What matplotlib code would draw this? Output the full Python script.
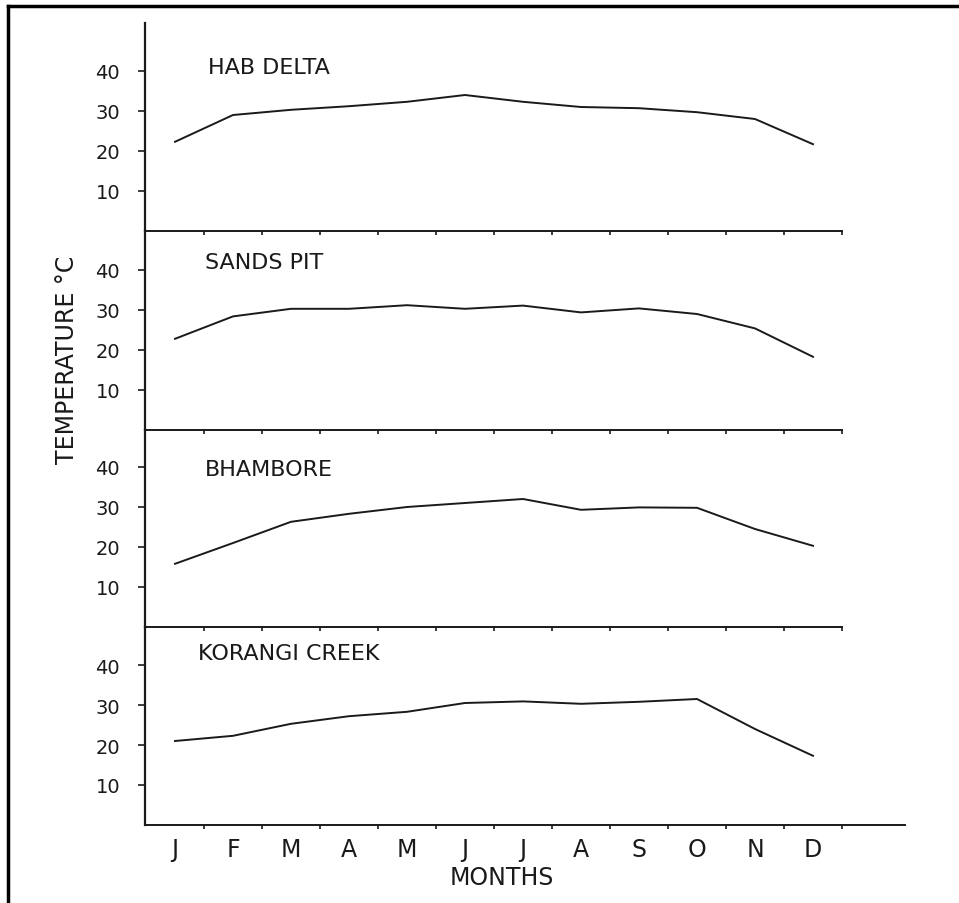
import matplotlib
matplotlib.use("Agg")
import matplotlib.pyplot as plt
from matplotlib.lines import Line2D
import numpy as np

# monthly mean temperatures (deg C)
months = ["J", "F", "M", "A", "M", "J", "J", "A", "S", "O", "N", "D"]
stations = ["HAB DELTA", "SANDS PIT", "BHAMBORE", "KORANGI CREEK"]
hab_delta = [22.3, 29.0, 30.3, 31.2, 32.3, 34.0, 32.3, 31.0, 30.7, 29.7, 28.0, 21.7]
sands_pit = [22.8, 28.4, 30.3, 30.3, 31.2, 30.3, 31.1, 29.4, 30.4, 29.0, 25.4, 18.3]
bhambore = [15.8, 21.0, 26.3, 28.3, 30.0, 31.0, 32.0, 29.3, 29.9, 29.8, 24.5, 20.3]
korangi_creek = [21.0, 22.3, 25.3, 27.2, 28.3, 30.5, 30.9, 30.3, 30.8, 31.5, 24.0, 17.3]
series = [hab_delta, sands_pit, bhambore, korangi_creek]
yticks = [10, 20, 30, 40]

W, H = 959, 904
fig = plt.figure(figsize=(W / 100, H / 100), dpi=100)
fig.patch.set_facecolor("white")

ink = "#1a1a1a"
font = "DejaVu Sans"

# pixel layout of the stacked panels: (top, bottom)
panels_px = [(24, 232), (232, 431), (431, 628), (628, 826)]
left_px, right_px = 145, 905
x0_px, step_px = 175, 58.0
xlim = ((left_px - x0_px) / step_px, (right_px - x0_px) / step_px)
px_per_unit = 4.0
title_pos = [(0.57, 41), (0.52, 42), (0.52, 39.5), (0.40, 43)]

x = np.arange(len(months))
for k, (top, bot) in enumerate(panels_px):
    ax = fig.add_axes([left_px / W, 1 - bot / H, (right_px - left_px) / W, (bot - top) / H])
    ax.patch.set_alpha(0)
    ax.set_xlim(*xlim)
    ax.set_ylim(0, (bot - top) / px_per_unit)
    ax.plot(x, series[k], color=ink, lw=1.4, solid_joinstyle="round")

    for side in ["top", "right"]:
        ax.spines[side].set_visible(False)
    ax.spines["left"].set_linewidth(1.6)
    ax.spines["bottom"].set_linewidth(1.4)
    ax.spines["left"].set_color(ink)
    ax.spines["bottom"].set_color(ink)
    last = k == len(panels_px) - 1
    ax.spines["bottom"].set_bounds(xlim[0], xlim[1] if last else 11.5)

    ax.set_yticks(yticks)
    ax.set_yticklabels([str(v) for v in yticks], fontsize=14, family=font, color=ink)
    ax.tick_params(axis="y", length=5, width=1.2, pad=13, colors=ink)

    ax.set_xticks(x + 0.5)
    ax.set_xticklabels([])
    ax.tick_params(axis="x", which="major", length=3, width=1.2, direction="out", colors=ink)
    ax.set_xticks(x, minor=True)
    if last:
        ax.set_xticklabels(months, minor=True, fontsize=17, family=font, color=ink)
    ax.tick_params(axis="x", which="minor", length=0, pad=9)

    tx, ty = title_pos[k]
    ax.text(tx, ty, stations[k], fontsize=16, family=font, color=ink, va="center", ha="left")

fig.text(502 / W, 1 - 878 / H, "MONTHS", fontsize=17, family=font, color=ink,
         ha="center", va="center")
fig.text(67 / W, 1 - 360 / H, "TEMPERATURE °C", fontsize=17, family=font, color=ink,
         ha="center", va="center", rotation=90)

# partial frame from the scanned page
fig.add_artist(Line2D([8 / W, 1.0], [1 - 7 / H, 1 - 7 / H], transform=fig.transFigure,
                      color="black", lw=2.5))
fig.add_artist(Line2D([8 / W, 8 / W], [1 - 7 / H, 0.0], transform=fig.transFigure,
                      color="black", lw=2.5))

fig.savefig("out.png", dpi=100, facecolor="white")
